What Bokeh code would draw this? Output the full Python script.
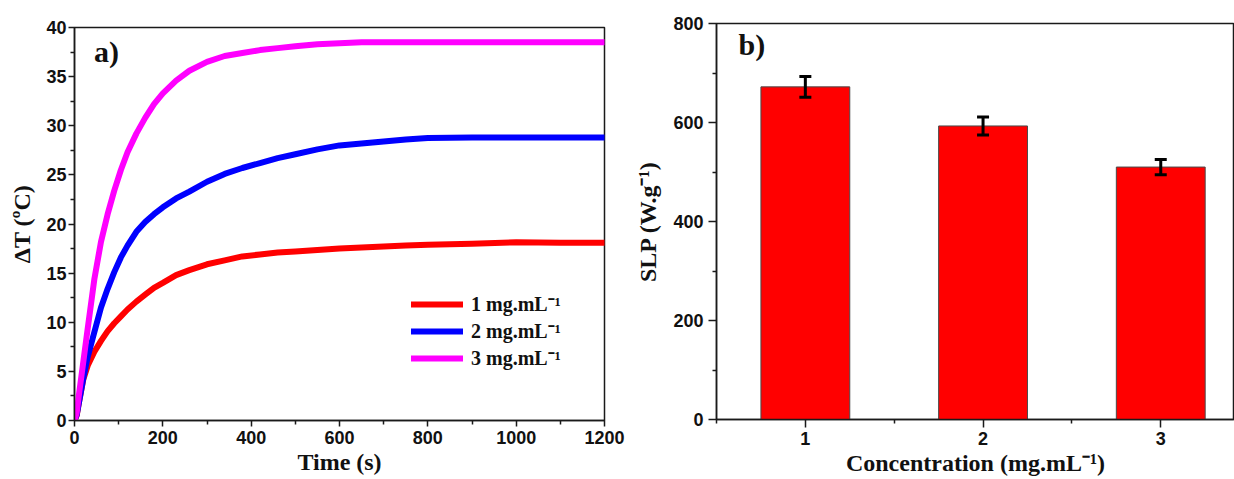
from bokeh.plotting import figure
from bokeh.layouts import row, column
from bokeh.models import (FixedTicker, Legend, LegendItem, Whisker, TeeHead,
                          ColumnDataSource, Label, Range1d)
from bokeh.embed import file_html
from bokeh.resources import INLINE

# ---- heating curves: temperature rise vs time ----
time_s = [0, 5, 10, 20, 30, 45, 60, 75, 90, 105, 120, 140, 160, 180, 200, 230,
          260, 300, 340, 380, 420, 460, 500, 550, 600, 650, 700, 750, 800, 900,
          1000, 1100, 1200]
dt_1mg = [0, 0.5, 1.8, 4.2, 5.6, 7.0, 8.1, 9.1, 9.9, 10.6, 11.3, 12.1, 12.8, 13.5,
          14.0, 14.8, 15.3, 15.9, 16.3, 16.7, 16.9, 17.1, 17.2, 17.35, 17.5, 17.6,
          17.7, 17.8, 17.9, 18.0, 18.15, 18.1, 18.1]
dt_2mg = [0, 0.6, 1.8, 4.3, 6.5, 9.0, 11.5, 13.4, 15.1, 16.6, 17.8, 19.2, 20.2, 21.0,
          21.7, 22.6, 23.3, 24.3, 25.1, 25.7, 26.2, 26.7, 27.1, 27.6, 28.0, 28.2,
          28.4, 28.6, 28.75, 28.8, 28.8, 28.8, 28.8]
dt_3mg = [0, 0.8, 2.6, 6.0, 9.4, 14.4, 18.2, 21.0, 23.4, 25.5, 27.3, 29.2, 30.8, 32.2,
          33.3, 34.6, 35.6, 36.5, 37.1, 37.4, 37.7, 37.9, 38.1, 38.3, 38.4, 38.5,
          38.5, 38.5, 38.5, 38.5, 38.5, 38.5, 38.5]
series_labels = ["1 mg.mL\u207b\u00b9", "2 mg.mL\u207b\u00b9", "3 mg.mL\u207b\u00b9"]
series_colors = ["#ff0000", "#0000ff", "#ff00ff"]

# ---- specific loss power per concentration ----
concentrations = [1, 2, 3]
slp_mean = [672, 593, 510]
slp_err = [21, 18, 15.5]

TICK_FONT = "Liberation Sans"
TITLE_FONT = "Liberation Serif"
AXIS_COLOR = "#1a1a1a"


def style_axis(ax, tick_out, minor_out, label_standoff, title_standoff):
    ax.axis_line_color = AXIS_COLOR
    ax.axis_line_width = 1.5
    ax.major_tick_line_color = AXIS_COLOR
    ax.major_tick_line_width = 1.5
    ax.minor_tick_line_color = AXIS_COLOR
    ax.minor_tick_line_width = 1.5
    ax.major_tick_in = 0
    ax.major_tick_out = tick_out
    ax.minor_tick_in = 0
    ax.minor_tick_out = minor_out
    ax.major_label_text_font = TICK_FONT
    ax.major_label_text_font_style = "bold"
    ax.major_label_text_font_size = "18px"
    ax.major_label_text_color = "#111111"
    ax.major_label_standoff = label_standoff
    ax.axis_label_text_font = TITLE_FONT
    ax.axis_label_text_font_style = "bold"
    ax.axis_label_text_font_size = "24px"
    ax.axis_label_text_color = "#111111"
    ax.axis_label_standoff = title_standoff


# ---- panel a ----
p1 = figure(width=632, height=479, title=None,
            x_range=Range1d(0, 1200), y_range=Range1d(0, 40),
            output_backend="svg", toolbar_location=None,
            min_border_left=74, min_border_right=28,
            min_border_top=27, min_border_bottom=59,
            x_axis_label="Time (s)", y_axis_label="\u0394T (\u00baC)")
p1.xgrid.visible = False
p1.ygrid.visible = False
p1.outline_line_color = AXIS_COLOR
p1.outline_line_width = 1.5
p1.background_fill_color = "white"
p1.border_fill_color = "white"

p1.xaxis.ticker = FixedTicker(ticks=list(range(0, 1201, 200)),
                              minor_ticks=list(range(100, 1200, 200)))
p1.yaxis.ticker = FixedTicker(ticks=list(range(0, 41, 5)),
                              minor_ticks=[2.5 + 5 * i for i in range(8)])
style_axis(p1.xaxis[0], 6, 4, 4, 2)
style_axis(p1.yaxis[0], 6, 4, 2, 8)

items = []
for vals, lab, col in zip([dt_1mg, dt_2mg, dt_3mg], series_labels, series_colors):
    r = p1.line(time_s, vals, line_color=col, line_width=6, line_join="round",
                line_cap="round")
    items.append(LegendItem(label=lab, renderers=[r]))

legend = Legend(items=items, location=(337, 49), padding=0, margin=0,
                spacing=0, glyph_width=52, glyph_height=20, label_height=20,
                label_standoff=8, border_line_alpha=0, background_fill_alpha=0,
                label_text_font=TITLE_FONT, label_text_font_style="bold",
                label_text_font_size="20px", label_text_color="#111111")
p1.add_layout(legend)

p1.add_layout(Label(x=44, y=37.6, text="a)", text_font=TITLE_FONT,
                    text_font_style="bold", text_font_size="30px",
                    text_baseline="middle", text_align="left",
                    text_color="#111111"))

# ---- panel b ----
p2 = figure(width=602, height=479, title=None,
            x_range=Range1d(0.5, 3.415), y_range=Range1d(0, 800),
            output_backend="svg", toolbar_location=None,
            min_border_left=81, min_border_right=0,
            min_border_top=23, min_border_bottom=60,
            x_axis_label="Concentration (mg.mL\u207b\u00b9)",
            y_axis_label="SLP (W.g\u207b\u00b9)")
p2.xgrid.visible = False
p2.ygrid.visible = False
p2.outline_line_color = AXIS_COLOR
p2.outline_line_width = 1.5
p2.background_fill_color = "white"
p2.border_fill_color = "white"

p2.xaxis.ticker = FixedTicker(ticks=concentrations, minor_ticks=[0.5, 1.5, 2.5, 3.5])
p2.yaxis.ticker = FixedTicker(ticks=list(range(0, 801, 200)),
                              minor_ticks=list(range(100, 800, 200)))
style_axis(p2.xaxis[0], 8, 4, 4, 2)
style_axis(p2.yaxis[0], 8, 4, 5, 9)

src = ColumnDataSource(dict(
    x=concentrations, top=slp_mean,
    upper=[m + e for m, e in zip(slp_mean, slp_err)],
    lower=[m - e for m, e in zip(slp_mean, slp_err)]))
p2.vbar(x="x", top="top", width=0.5, bottom=0, source=src,
        fill_color="#ff0000", line_color="#4a4a4a", line_width=1)
whisk = Whisker(source=src, base="x", upper="upper", lower="lower",
                line_color="black", line_width=3, level="overlay",
                upper_head=TeeHead(size=12, line_width=3, line_color="black"),
                lower_head=TeeHead(size=12, line_width=3, line_color="black"))
p2.add_layout(whisk)

p2.add_layout(Label(x=0.624, y=757, text="b)", text_font=TITLE_FONT,
                    text_font_style="bold", text_font_size="30px",
                    text_baseline="middle", text_align="left",
                    text_color="#111111"))

layout = row(column(p1), column(p2))
open("out.html", "w").write(file_html(layout, INLINE))
